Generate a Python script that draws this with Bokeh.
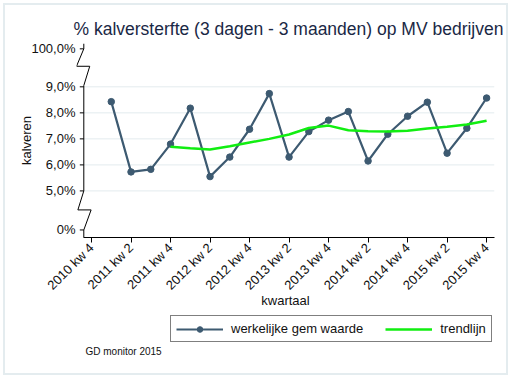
import math
import numpy as np
from bokeh.plotting import figure
from bokeh.layouts import column
from bokeh.models import (ColumnDataSource, FixedTicker, Legend, LegendItem, Label)
from bokeh.embed import file_html
from bokeh.resources import INLINE

# ---------------- data ----------------
categories = ["2010 kw 4",
              "2011 kw 1", "2011 kw 2", "2011 kw 3", "2011 kw 4",
              "2012 kw 1", "2012 kw 2", "2012 kw 3", "2012 kw 4",
              "2013 kw 1", "2013 kw 2", "2013 kw 3", "2013 kw 4",
              "2014 kw 1", "2014 kw 2", "2014 kw 3", "2014 kw 4",
              "2015 kw 1", "2015 kw 2", "2015 kw 3", "2015 kw 4"]
werkelijk = [None, 8.43, 5.73, 5.83, 6.80, 8.18, 5.55, 6.30, 7.37, 8.74, 6.30,
             7.28, 7.72, 8.05, 6.15, 7.18, 7.87, 8.41, 6.45, 7.41, 8.57]
trendlijn = [None, None, None, None, 6.70, 6.64, 6.59, 6.72, 6.86, 7.00, 7.17,
             7.42, 7.51, 7.33, 7.29, 7.28, 7.31, 7.40, 7.47, 7.55, 7.70]
y_tick_labels = ["0%", "5,0%", "6,0%", "7,0%", "8,0%", "9,0%", "100,0%"]
grid_values = [5, 6, 7, 8, 9]
series_names = ["werkelijke gem waarde", "trendlijn"]
footnote = "GD monitor 2015"

FONT = "Liberation Sans"
COL = "#3d5a71"
GREEN = "#11ee11"

# ---------------- layout helpers (broken y axis) ----------------
y_pos_zero = 3.5      # where 0% sits on the broken axis
y_pos_hundred = 10.46 # where 100% sits
y_tick_pos = [y_pos_zero, 5, 6, 7, 8, 9, y_pos_hundred]
x_axis_pos = -0.39
x_start, x_end = -0.76, 20.4
y_start, y_end = 3.21, 10.665
px_x = (x_end - x_start) / 418.0

idx = list(range(len(categories)))
src = ColumnDataSource(dict(
    x=idx,
    y=np.array([np.nan if v is None else v for v in werkelijk], dtype=float),
    t=np.array([np.nan if v is None else v for v in trendlijn], dtype=float),
))

p = figure(frame_width=418, frame_height=194,
           x_range=(x_start, x_end), y_range=(y_start, y_end),
           output_backend="svg", toolbar_location=None,
           min_border_left=71, min_border_top=38, min_border_right=12,
           min_border_bottom=70)
p.outline_line_color = None
p.background_fill_color = "white"
p.border_fill_color = "white"
p.xgrid.visible = False
p.ygrid.visible = False

# title
p.title.text = "% kalversterfte (3 dagen - 3 maanden) op MV bedrijven"
p.title.text_font = FONT
p.title.text_font_size = "17.5px"
p.title.text_font_style = "normal"
p.title.text_color = "#1a2845"
p.title.align = "left"
p.title.offset = -3
p.title.standoff = 10

# grid lines
p.segment(x0=[x_axis_pos] * len(grid_values), x1=[x_end] * len(grid_values),
          y0=grid_values, y1=grid_values, line_color="#e3ebee", line_width=1)

# broken y axis line
bx = [x_axis_pos, x_axis_pos, x_axis_pos - 0.37, x_axis_pos + 0.30, x_axis_pos,
      x_axis_pos, x_axis_pos - 0.30, x_axis_pos + 0.37, x_axis_pos, x_axis_pos]
by = [y_end, y_pos_hundred, 9.79, 9.79, 9.05,
      5.0, 4.27, 4.27, y_pos_zero, y_start]
p.line(bx, by, line_color="black", line_width=1)
# y tick marks
p.segment(x0=[x_axis_pos - 4 * px_x] * len(y_tick_pos), x1=[x_axis_pos] * len(y_tick_pos),
          y0=y_tick_pos, y1=y_tick_pos, line_color="black", line_width=1)

# data
p.line("x", "y", source=src, line_color=COL, line_width=2.2)
p.scatter("x", "y", source=src, size=6.5, fill_color=COL, line_color=COL)
p.line("x", "t", source=src, line_color=GREEN, line_width=2.5)

# y axis
ya = p.yaxis[0]
ya.ticker = FixedTicker(ticks=y_tick_pos)
ya.major_label_overrides = {pos: lab for pos, lab in zip(y_tick_pos, y_tick_labels)}
ya.axis_line_color = None
ya.major_tick_out = 0
ya.major_tick_in = 0
ya.minor_tick_line_color = None
ya.major_tick_line_color = None
ya.major_label_standoff = 1
ya.major_label_text_font = FONT
ya.major_label_text_font_size = "13px"
ya.major_label_text_color = "#111111"
ya.axis_label = "kalveren"
ya.axis_label_text_font = FONT
ya.axis_label_text_font_size = "13px"
ya.axis_label_text_font_style = "normal"
ya.axis_label_text_color = "#111111"
ya.axis_label_standoff = -6

# x axis
xa = p.xaxis[0]
xa.bounds = (x_axis_pos, x_end)
xa.ticker = FixedTicker(ticks=idx[::2])
xa.major_label_overrides = {i: categories[i] for i in idx[::2]}
xa.major_label_orientation = math.pi / 4
xa.axis_line_color = "black"
xa.major_tick_out = 5
xa.major_tick_in = 0
xa.minor_tick_line_color = None
xa.major_label_standoff = 3
xa.major_label_text_font = FONT
xa.major_label_text_font_size = "13px"
xa.major_label_text_color = "#111111"
xa.axis_label = "kwartaal"
xa.axis_label_text_font = FONT
xa.axis_label_text_font_size = "13px"
xa.axis_label_text_font_style = "normal"
xa.axis_label_text_color = "#111111"
xa.axis_label_standoff = -8

# ---------------- legend / footnote strip ----------------
p2 = figure(frame_width=418, height=62, x_range=(0, 1), y_range=(0, 1),
            output_backend="svg", toolbar_location=None,
            x_axis_location=None, y_axis_location=None,
            min_border_left=71, min_border_right=12, min_border_top=0, min_border_bottom=0)
p2.outline_line_color = None
p2.xgrid.visible = False
p2.ygrid.visible = False
p2.background_fill_color = "white"
p2.border_fill_color = "white"
# invisible stand-in renderers (a single NaN point) so the legend can draw its swatches
k_src = ColumnDataSource(dict(x=[np.nan], y=[np.nan]))
k1 = p2.line("x", "y", source=k_src, line_color=COL, line_width=2.2)
k2 = p2.scatter("x", "y", source=k_src, size=6.5, fill_color=COL, line_color=COL)
k3 = p2.line("x", "y", source=k_src, line_color=GREEN, line_width=2.5)

legend = Legend(items=[LegendItem(label=series_names[0], renderers=[k1, k2]),
                       LegendItem(label=series_names[1], renderers=[k3])],
                orientation="horizontal", location=(94, 31))
legend.label_text_font = FONT
legend.label_text_font_size = "13px"
legend.label_text_color = "#111111"
legend.label_height = 14
legend.glyph_width = 47
legend.glyph_height = 14
legend.label_standoff = 8
legend.spacing = 22
legend.padding = 5
legend.margin = 0
legend.border_line_color = "black"
legend.border_line_width = 1
legend.background_fill_color = "white"
legend.background_fill_alpha = 1
p2.add_layout(legend)

note = Label(text=footnote, x=9, y=22, x_units="screen", y_units="screen",
             text_font=FONT, text_font_size="10px", text_color="#111111",
             text_baseline="middle", text_align="left")
p2.add_layout(note)

layout = column(p, p2, spacing=0)
layout.margin = (3, 0, 0, 3)
layout.styles = {"border": "2px solid #e4ecef", "background": "white"}

open("out.html", "w").write(file_html(layout, INLINE))
